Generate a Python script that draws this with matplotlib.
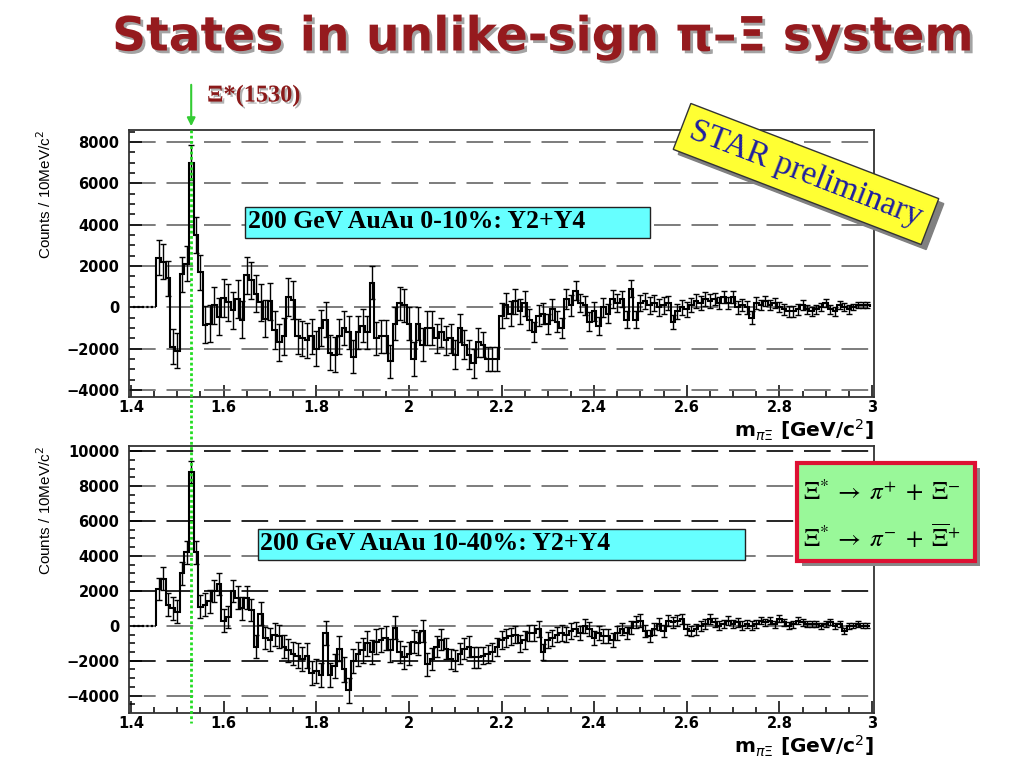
import numpy as np
import matplotlib
matplotlib.use("Agg")
import matplotlib.pyplot as plt
import matplotlib.patheffects as pe
import matplotlib.transforms as mtransforms
from matplotlib.patches import Rectangle, FancyArrowPatch
from matplotlib.lines import Line2D
from matplotlib.ticker import MultipleLocator

plt.rcParams["mathtext.fontset"] = "stix"

# binning in GeV/c^2 (10 MeV bins), first 5 bins are empty
bin_width = 0.01
first_edge = 1.405
n_empty = 5

# 200 GeV AuAu 0-10%, bin centres 1.46 ... 2.99
counts_0_10 = [
    2400, 2200, 1400, -1900, -2100, 1600, 2100, 7000, 3500, 1700,
    -850, -800, 100, -450, 450, 250, -150, 400, -600, 1550,
    1300, 650, 250, -550, 300, -1100, -1700, -1400, 500, 350,
    -1400, -1500, -1600, -1400, -2000, -1000, -600, -2200, -2300, -1400,
    -1000, -1200, -2400, -1200, -900, -1200, 1200, -1500, -1400, -1400,
    -2600, -800, 200, 100, -800, -2500, -800, -1800, -1000, -1000,
    -1500, -1200, -1600, -1500, -2300, -1000, -1800, -2300, -2700, -1700,
    -1800, -2500, -2500, -2500, -400, 100, -300, 300, -200, 200,
    -600, -1200, -400, -300, -800, -100, -700, -1000, 400, 100,
    800, 200, 100, -700, -200, -900, 0, -300, 400, 200,
    400, -600, 900, -600, 200, 300, 100, 200, 0, 100,
    200, -700, -200, 0, -100, 100, 300, 200, 400, 300,
    400, 200, 500, 200, 500, 0, 100, 0, -500, 200,
    100, 300, 100, 200, 0, -100, -200, -200, -100, 100,
    -100, -200, -100, 0, 200, -100, -200, 100, 0, -100,
    0, 100, 100, 100,
]
# error size per block of 10 bins
err_0_10 = [850, 900, 900, 850, 800, 800, 700, 600, 500, 450, 400, 350, 300, 250, 200, 150]

# 200 GeV AuAu 10-40%
counts_10_40 = [
    2100, 2700, 1200, 1000, 800, 3000, 4200, 8800, 4200, 1100,
    1200, 1400, 2000, 2400, 300, 500, 2000, 1600, 1000, 1600,
    900, -1200, 700, -700, -800, -500, -600, -1200, -1400, -1600,
    -1700, -1900, -1700, -2700, -2600, -2800, -400, -2800, -2300, -1300,
    -2500, -3700, -2000, -1600, -1400, -1000, -1500, -900, -800, -700,
    -1400, -100, -1500, -1800, -1600, -900, -1000, -300, -2200, -1900,
    -1200, -800, -1300, -1900, -2000, -1600, -1300, -1200, -1800, -1800,
    -1700, -1600, -1500, -1200, -800, -700, -600, -500, -1000, -800,
    -400, -400, -200, -1500, -800, -700, -500, -400, -500, -300,
    -200, -400, 0, -200, -700, -400, -600, -600, -800, -400,
    -200, -400, -100, 200, 300, -300, -600, -200, 100, -300,
    300, 200, 300, 400, -200, -300, -200, 0, 100, 400,
    200, 0, 100, 300, 100, 200, 0, 100, 0, 100,
    300, 200, 300, 100, 400, 200, 0, 100, 300, 200,
    100, 100, 100, 0, 100, 200, 0, 100, -300, 0,
    0, 100, 0, 0,
]
err_10_40 = [650, 650, 650, 700, 700, 650, 600, 500, 450, 400, 350, 300, 250, 200, 180, 150]

xi_star_mass = 1.530
x_ticks = [1.4, 1.6, 1.8, 2.0, 2.2, 2.4, 2.6, 2.8, 3.0]
x_ticklabels = ["1.4", "1.6", "1.8", "2", "2.2", "2.4", "2.6", "2.8", "3"]
y_ticks_top = [-4000, -2000, 0, 2000, 4000, 6000, 8000]
y_ticks_bot = [-4000, -2000, 0, 2000, 4000, 6000, 8000, 10000]

W, H = 1024, 768
fig = plt.figure(figsize=(10.24, 7.68), dpi=100)
fig.patch.set_facecolor("white")


def fx(px):
    return px / W


def fy(py):
    return 1 - py / H


ax_top = fig.add_axes([fx(129), fy(397), fx(745), 267 / H])
ax_bot = fig.add_axes([fx(129), fy(713), fx(745), 267 / H])


def draw_panel(ax, counts, errs, yticks, ylim, alternate):
    counts = np.asarray(counts, float)
    yerr = np.repeat(errs, 10)[:len(counts)]
    edges = first_edge + bin_width * np.arange(n_empty + len(counts) + 1)
    data_edges = edges[n_empty:]
    centers = 0.5 * (data_edges[:-1] + data_edges[1:])

    ax.hlines(0, edges[0], edges[n_empty], colors="k", linestyles=(0, (1, 1)), lw=1.6)
    ax.stairs(counts, data_edges, baseline=0, color="k", lw=1.5)
    ax.errorbar(centers, counts, yerr=yerr, fmt="none", ecolor="k",
                elinewidth=1.0, capsize=2.0, capthick=1.0)

    ax.set_xlim(1.3957, 3.0043)
    ax.set_ylim(*ylim)
    ax.set_xticks(x_ticks)
    ax.set_xticklabels(x_ticklabels)
    ax.set_yticks(yticks)
    ax.xaxis.set_minor_locator(MultipleLocator(0.05))
    ax.yaxis.set_minor_locator(MultipleLocator(500))
    ax.tick_params(which="both", direction="in", top=False, right=False, width=1.1)
    ax.tick_params(which="major", length=9)
    ax.tick_params(which="minor", length=4.5)
    ax.tick_params(axis="y", pad=7)
    ax.tick_params(axis="x", pad=2.5)
    for lab in ax.get_xticklabels() + ax.get_yticklabels():
        lab.set_fontweight("bold")
        lab.set_fontsize(10.5)

    ax.set_axisbelow(True)
    ax.yaxis.grid(True, linestyle=(0, (16, 6.5)), lw=1.2, color="#666666")
    if alternate:
        for i, gl in enumerate(ax.get_ygridlines()):
            gl.set_color("black" if i % 2 else "#666666")
    for sp in ax.spines.values():
        sp.set_linewidth(1.3)
        sp.set_color("#333333")

    ax.set_ylabel("Counts / 10MeV/c$^{2}$", loc="top", fontsize=11,
                  family="Liberation Sans", math_fontfamily="dejavusans")
    ax.yaxis.set_label_coords(-0.101, 1.0)
    ax.text(1.0, -0.125, r"m$_{\pi\Xi}$ [GeV/c$^{2}$]", transform=ax.transAxes,
            ha="right", va="center", fontsize=14.5, fontweight="bold",
            math_fontfamily="dejavusans")


draw_panel(ax_top, counts_0_10, err_0_10, y_ticks_top, (-4340, 8580), False)
draw_panel(ax_bot, counts_10_40, err_10_40, y_ticks_bot, (-4990, 10290), True)

# title
fig.text(0.531, fy(38), "States in unlike-sign \u03c0\u2013\u039e system",
         ha="center", va="center", fontsize=34, fontweight="bold", color="#951A1E",
         path_effects=[pe.withSimplePatchShadow(offset=(2, -2), shadow_rgbFace="#999999", alpha=0.9)])

# Xi*(1530) marker
fig.text(fx(207), fy(96), "\u039e*(1530)", ha="left", va="center", fontsize=17.5,
         fontweight="bold", family="Liberation Serif", color="#8B1A1A",
         path_effects=[pe.withSimplePatchShadow(offset=(1.5, -1.5), shadow_rgbFace="#aaaaaa", alpha=0.9)])
blend = mtransforms.blended_transform_factory(ax_top.transData, fig.transFigure)
fig.add_artist(Line2D([xi_star_mass, xi_star_mass], [fy(130), fy(723)], transform=blend,
                      color="#22DD22", lw=2.0, linestyle=(0, (1, 0.9))))
fig.add_artist(FancyArrowPatch((xi_star_mass, fy(82)), (xi_star_mass, fy(129)), transform=blend,
                               arrowstyle="-|>", mutation_scale=12, color="#33CC33", lw=1.5))

# centrality boxes
fig.add_artist(Rectangle((fx(245), fy(238)), fx(405), 31 / H, transform=fig.transFigure,
                         facecolor="#66FFFF", edgecolor="#222222", lw=1.0))
fig.text(fx(248), fy(222), "200 GeV AuAu 0-10%: Y2+Y4", ha="left", va="center",
         fontsize=18.5, fontweight="bold", family="Liberation Serif")
fig.add_artist(Rectangle((fx(258), fy(560)), fx(487), 31 / H, transform=fig.transFigure,
                         facecolor="#66FFFF", edgecolor="#222222", lw=1.0))
fig.text(fx(260), fy(544), "200 GeV AuAu 10-40%: Y2+Y4", ha="left", va="center",
         fontsize=18.5, fontweight="bold", family="Liberation Serif")

# decay legend box
fig.add_artist(Rectangle((fx(802), fy(566)), fx(178), 98 / H, transform=fig.transFigure,
                         facecolor="#888888", edgecolor="none"))
fig.add_artist(Rectangle((fx(797), fy(561)), fx(178), 98 / H, transform=fig.transFigure,
                         facecolor="#99F899", edgecolor="#DD1133", lw=3))
fig.text(fx(803), fy(492), r"$\Xi^{*}\;\rightarrow\;\pi^{+}\;+\;\Xi^{-}$", ha="left", va="center",
         fontsize=18)
fig.text(fx(803), fy(538), r"$\Xi^{*}\;\rightarrow\;\pi^{-}\;+\;\overline{\Xi}^{+}$", ha="left", va="center",
         fontsize=18)

# STAR preliminary stamp
shadow_tr = mtransforms.offset_copy(fig.transFigure, fig=fig, x=5, y=-5, units="dots")
fig.text(fx(806), fy(174), "STAR preliminary", transform=shadow_tr, ha="center", va="center",
         rotation=-21, rotation_mode="anchor", fontsize=24, family="Liberation Serif", color="#808080",
         bbox=dict(boxstyle="square,pad=0.28", facecolor="#808080", edgecolor="#808080"))
fig.text(fx(806), fy(174), "STAR preliminary", ha="center", va="center",
         rotation=-21, rotation_mode="anchor", fontsize=24, family="Liberation Serif", color="#1E1EA0",
         bbox=dict(boxstyle="square,pad=0.28", facecolor="#FFFF33", edgecolor="#333333", lw=1.0))

fig.savefig("out.png", dpi=100)
